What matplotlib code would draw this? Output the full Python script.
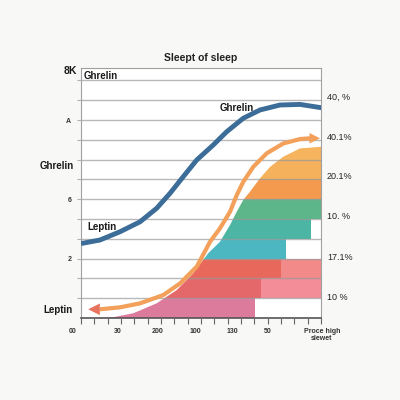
import numpy as np
import matplotlib.pyplot as plt
from matplotlib.patches import Polygon

plt.rcParams['font.family'] = ['Liberation Sans', 'DejaVu Sans']

title = 'Sleept of sleep'

# x runs 0..10 across the plot, y is one unit per gridline
ghrelin_x = [0.0, 0.79, 1.63, 2.46, 3.15, 3.71, 4.26, 4.82, 5.51, 6.07, 6.76,
             7.46, 8.29, 9.13, 10.03]
ghrelin_y = [3.76, 3.94, 4.36, 4.86, 5.54, 6.30, 7.14, 7.98, 8.74, 9.41, 10.09,
             10.51, 10.76, 10.79, 10.62]

# first and last points are the arrow tips, the next ones the head bases
arrow_x = [0.30, 0.79, 1.63, 2.46, 3.43, 4.13, 4.82, 5.17, 5.375, 5.79, 6.21,
           6.49, 6.76, 7.18, 7.74, 8.43, 9.13, 9.54, 9.96]
arrow_y = [0.44, 0.44, 0.54, 0.74, 1.16, 1.75, 2.59, 3.38, 3.85, 4.53, 5.37,
           6.21, 6.88, 7.64, 8.32, 8.82, 9.04, 9.08, 9.08]

fill_x = [0.79, 1.35, 2.18, 3.15, 3.99, 4.68, 5.30, 5.79, 6.21, 6.49, 6.76,
          7.04, 7.46, 7.88, 8.43, 9.13, 10.0]
fill_y = [0.0, 0.04, 0.24, 0.74, 1.41, 2.26, 3.27, 3.85, 4.70, 5.37, 5.96,
          6.38, 7.06, 7.64, 8.15, 8.57, 8.65]

# bands from the bottom row up
band_colors = ['#dd7b9c', '#e4676a', '#e8695c', '#4db7c1', '#4db5a4',
               '#5db58a', '#f39a4f', '#f6b15c', '#f7b45e']
band_ends = [7.25, 7.5, 8.33, 8.54, 9.6, 10, 10, 10, 10]
tail_colors = [None, '#f38d98', '#f38a8a', None, None, None, None, None, None]

ytick_labels = {10: 'A', 6: '6', 3: '2'}
xlabel_pos = [-0.33, 1.54, 3.17, 4.75, 6.29, 7.79, 10.04]
xlabel_text = ['00', '30', '200', '100', '130', '50', 'Proce high\nslewet']
right_pos = [11.16, 9.14, 7.17, 5.15, 3.08, 1.06]
right_text = ['40, %', '40.1%', '20.1%', '10. %', '17.1%', '10 %']

fig = plt.figure(figsize=(4, 4), dpi=100, facecolor='#f8f8f7')
ax = fig.add_axes([0.2025, 0.205, 0.6, 0.625])
ax.set_facecolor('white')
ax.set_xlim(0, 10)
ax.set_ylim(0, 12.63)

clip = Polygon(list(zip(fill_x, fill_y)) + [(10, 0)], closed=True,
               transform=ax.transData)
rows = np.arange(len(band_colors))
bars = ax.barh(rows + 0.5, band_ends, left=0, height=1, color=band_colors,
               linewidth=0, zorder=1)
for b in bars:
    b.set_clip_path(clip)
for i in rows:
    if tail_colors[i] is not None:
        t = ax.barh(i + 0.5, 10 - band_ends[i], left=band_ends[i], height=1,
                    color=tail_colors[i], linewidth=0, zorder=1)
        t[0].set_clip_path(clip)

# gridlines
ax.set_yticks(range(1, 13))
ax.set_yticklabels([ytick_labels.get(v, '') for v in range(1, 13)],
                   fontsize=5, fontweight='bold', color='#333333')
ax.grid(axis='y', color='#9a9a9a', alpha=0.7, lw=1)
ax.set_axisbelow(False)
ax.tick_params(axis='y', length=3, color='#b0b0b0', pad=4)

ax.set_xticks(np.linspace(0, 10, 19))
ax.set_xticklabels([])
ax.tick_params(axis='x', length=4, color='#666666', width=0.8)

for s in ['left', 'right', 'top']:
    ax.spines[s].set_color('#a0a0a0')
ax.spines['bottom'].set_color('#555555')
ax.spines['bottom'].set_linewidth(1.2)

ax.plot(ghrelin_x, ghrelin_y, color='#3c6c98', lw=3.5, solid_capstyle='butt',
        solid_joinstyle='round', zorder=4)

ax.plot(arrow_x[1:-1], arrow_y[1:-1], color='#f2a05a', lw=3, zorder=4,
        solid_joinstyle='round', solid_capstyle='butt', clip_on=False)
ax.annotate('', xy=(arrow_x[-1], arrow_y[-1]), xytext=(arrow_x[-2], arrow_y[-2]),
            arrowprops=dict(arrowstyle='-|>', mutation_scale=19, color='#f2a05a',
                            lw=0, shrinkA=0, shrinkB=0), zorder=5, annotation_clip=False)
ax.annotate('', xy=(arrow_x[0], arrow_y[0]), xytext=(arrow_x[1], arrow_y[1]),
            arrowprops=dict(arrowstyle='-|>', mutation_scale=21, color='#e8735f',
                            lw=0, shrinkA=0, shrinkB=0), zorder=5, annotation_clip=False)

ax.set_title(title, fontsize=7.5, fontweight='bold', pad=5, color='#222222')

bold = dict(fontweight='bold', color='#1a1a1a', clip_on=False)
ax.text(-0.17, 12.5, '8K', fontsize=7.5, ha='right', va='center', **bold)
ax.text(-0.3, 7.68, 'Ghrelin', fontsize=7, ha='right', va='center', **bold)
ax.text(-0.33, 0.4, 'Leptin', fontsize=7, ha='right', va='center', **bold)
ax.text(0.12, 12.23, 'Ghrelin', fontsize=7, ha='left', va='center', **bold)
ax.text(6.5, 10.61, 'Ghrelin', fontsize=7, ha='center', va='center', **bold)
ax.text(0.25, 4.6, 'Leptin', fontsize=7, ha='left', va='center', **bold)

for p, s in zip(right_pos, right_text):
    ax.text(10.25, p, s, fontsize=6.5, ha='left', va='center', color='#222222',
            clip_on=False)

for p, s in zip(xlabel_pos, xlabel_text):
    ax.text(p, -0.5, s, fontsize=5, fontweight='bold', ha='center', va='top',
            color='#333333', clip_on=False, linespacing=1.0)

fig.savefig('out.png', dpi=100, facecolor=fig.get_facecolor())
